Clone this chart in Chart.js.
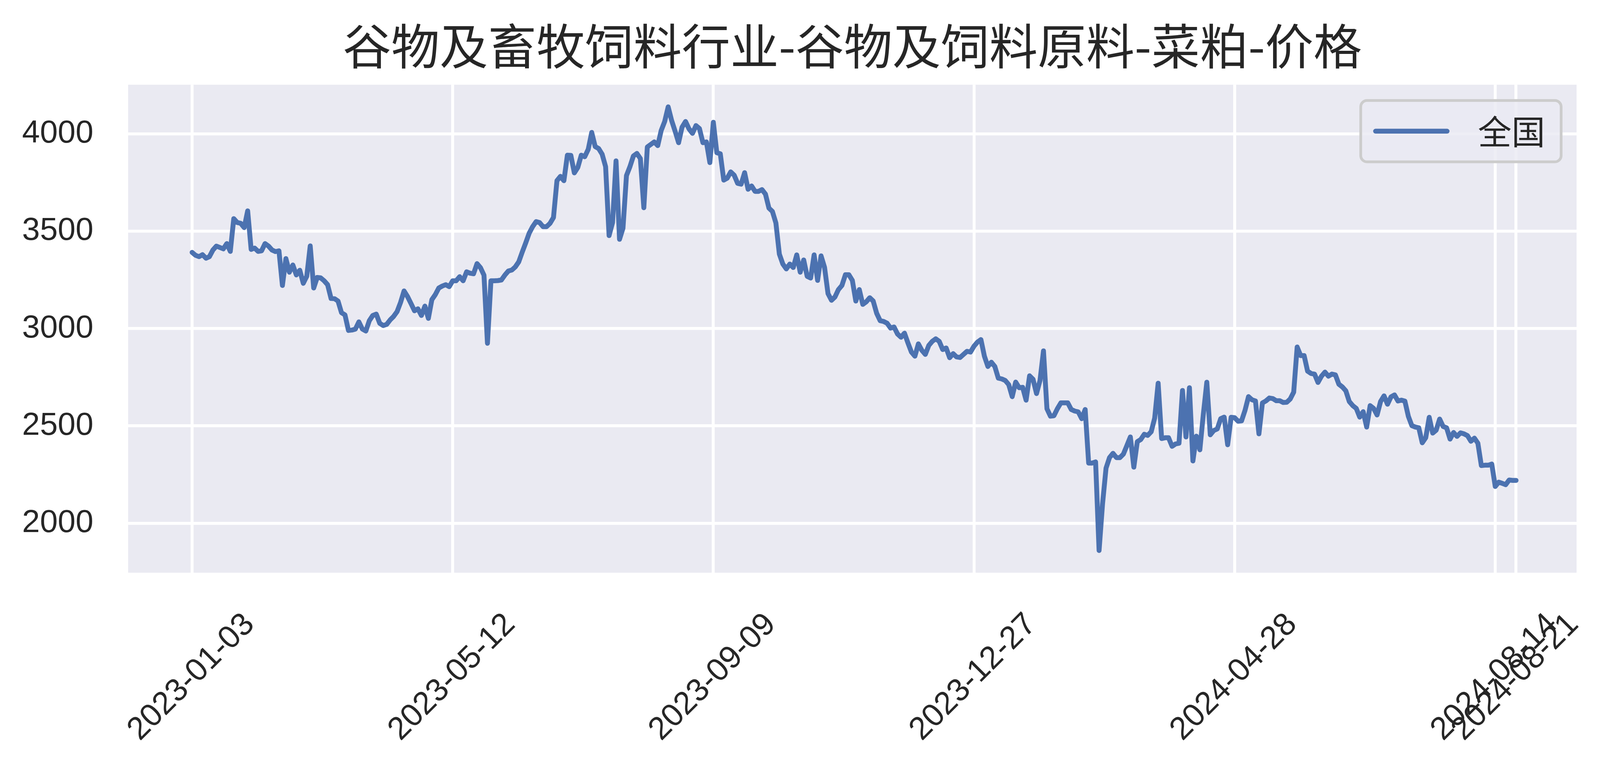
<!DOCTYPE html>
<html>
<head>
<meta charset="utf-8">
<title>菜粕价格</title>
<script src="https://cdn.jsdelivr.net/npm/chart.js@4.4.1/dist/chart.umd.min.js"></script>
<style>
  html, body { margin: 0; padding: 0; background: #ffffff; }
  canvas { display: block; }
</style>
</head>
<body>
<canvas id="priceChart" width="4131" height="1989" style="width:4131px;height:1989px"></canvas>
<script>
const chartTitle = '谷物及畜牧饲料行业-谷物及饲料原料-菜粕-价格';
const seriesName = '全国';

// x ticks: index of the point in the series and its date
const tickIndex = [0, 75, 150, 225, 300, 375, 381];
const tickLabels = ['2023-01-03', '2023-05-12', '2023-09-09', '2023-12-27', '2024-04-28', '2024-08-14', '2024-08-21'];
const yTicks = [2000, 2500, 3000, 3500, 4000];

// 全国 菜粕 price, one value per record
const prices = [
    3391, 3376, 3369, 3379, 3361, 3369, 3403, 3423, 3416, 3409,
    3436, 3396, 3564, 3544, 3540, 3518, 3604, 3406, 3413, 3396,
    3399, 3436, 3423, 3403, 3395, 3399, 3221, 3359, 3289, 3326,
    3275, 3299, 3232, 3268, 3424, 3208, 3262, 3260, 3245, 3225,
    3154, 3153, 3141, 3081, 3070, 2990, 2992, 2997, 3034, 2997,
    2987, 3040, 3067, 3074, 3027, 3015, 3021, 3044, 3062, 3087,
    3134, 3193, 3164, 3128, 3091, 3101, 3067, 3115, 3052, 3148,
    3174, 3208, 3218, 3225, 3215, 3245, 3245, 3266, 3245, 3291,
    3284, 3281, 3333, 3312, 3274, 2924, 3245, 3245, 3246, 3249,
    3274, 3295, 3300, 3316, 3342, 3392, 3439, 3489, 3523, 3549,
    3544, 3523, 3523, 3540, 3570, 3759, 3781, 3759, 3890, 3889,
    3799, 3827, 3890, 3882, 3920, 4007, 3934, 3924, 3895, 3831,
    3477, 3544, 3861, 3458, 3515, 3785, 3831, 3886, 3899, 3873,
    3620, 3932, 3945, 3958, 3939, 4017, 4063, 4138, 4068, 4013,
    3954, 4034, 4063, 4025, 4002, 4042, 4027, 3954, 3958, 3852,
    4059, 3903, 3897, 3762, 3772, 3804, 3787, 3745, 3741, 3800,
    3715, 3732, 3704, 3704, 3713, 3690, 3618, 3601, 3542, 3382,
    3331, 3306, 3331, 3313, 3378, 3289, 3352, 3268, 3259, 3378,
    3247, 3373, 3314, 3179, 3145, 3162, 3200, 3221, 3276, 3276,
    3247, 3141, 3200, 3124, 3137, 3158, 3141, 3078, 3040, 3036,
    3027, 3002, 3008, 2972, 2955, 2976, 2926, 2879, 2858, 2921,
    2888, 2867, 2913, 2934, 2947, 2934, 2892, 2900, 2850, 2871,
    2854, 2851, 2867, 2883, 2879, 2909, 2930, 2943, 2858, 2805,
    2827, 2805, 2745, 2741, 2733, 2712, 2650, 2725, 2696, 2698,
    2632, 2757, 2739, 2666, 2733, 2885, 2588, 2550, 2552, 2588,
    2618, 2618, 2618, 2584, 2576, 2572, 2537, 2584, 2309, 2309,
    2315, 1860, 2100, 2283, 2337, 2359, 2337, 2337, 2355, 2399,
    2443, 2288, 2419, 2430, 2457, 2451, 2470, 2540, 2719, 2435,
    2439, 2439, 2395, 2407, 2411, 2682, 2443, 2696, 2320, 2447,
    2377, 2560, 2724, 2454, 2476, 2484, 2537, 2545, 2403, 2544,
    2542, 2524, 2526, 2580, 2650, 2634, 2628, 2459, 2618, 2628,
    2643, 2640, 2629, 2629, 2620, 2621, 2638, 2673, 2905, 2861,
    2861, 2781, 2769, 2766, 2723, 2755, 2776, 2755, 2766, 2762,
    2714, 2700, 2680, 2625, 2604, 2590, 2545, 2573, 2494, 2604,
    2590, 2556, 2625, 2654, 2611, 2649, 2659, 2628, 2632, 2627,
    2549, 2501, 2494, 2490, 2413, 2439, 2544, 2463, 2478, 2535,
    2497, 2490, 2432, 2466, 2446, 2464, 2459, 2450, 2421, 2437,
    2411, 2296, 2298, 2298, 2304, 2189, 2211, 2205, 2198, 2222,
    2220, 2220
];

const points = prices.map((v, i) => ({ x: i, y: v }));

const lo = Math.min(...prices);
const hi = Math.max(...prices);
const yPad = (hi - lo) * 0.05;

const textColor = '#262626';
const tickFont = { family: '"Liberation Sans", Arial, sans-serif', size: 82 };

// seaborn style grey panel behind the grid
const plotBackground = {
    id: 'plotBackground',
    beforeDraw(chart) {
        const { ctx, chartArea } = chart;
        ctx.save();
        ctx.fillStyle = '#ffffff';
        ctx.fillRect(0, 0, chart.width, chart.height);
        ctx.fillStyle = '#eaeaf2';
        ctx.fillRect(chartArea.left, chartArea.top, chartArea.right - chartArea.left, chartArea.bottom - chartArea.top);
        ctx.restore();
    }
};

// legend box in the upper right corner of the plot
const insideLegend = {
    id: 'insideLegend',
    afterDraw(chart) {
        const { ctx, chartArea } = chart;
        const ds = chart.data.datasets[0];
        const w = 513, h = 157;
        const x = chartArea.right - 36 - w - 3.5;
        const y = chartArea.top + 37 + 3.5;
        const midY = y + h / 2;

        ctx.save();
        ctx.beginPath();
        ctx.roundRect(x, y, w, h, 16);
        ctx.fillStyle = 'rgba(234, 234, 242, 0.8)';
        ctx.fill();
        ctx.lineWidth = 7;
        ctx.strokeStyle = '#cccccc';
        ctx.stroke();

        ctx.beginPath();
        ctx.moveTo(x + 38, midY);
        ctx.lineTo(x + 221, midY);
        ctx.lineWidth = ds.borderWidth;
        ctx.lineCap = 'round';
        ctx.strokeStyle = ds.borderColor;
        ctx.stroke();

        ctx.fillStyle = textColor;
        ctx.font = '86px "Noto Sans CJK SC"';
        ctx.textBaseline = 'middle';
        ctx.textAlign = 'left';
        ctx.fillText(ds.label, x + 300, midY + 2);
        ctx.restore();
    }
};

new Chart(document.getElementById('priceChart').getContext('2d'), {
    type: 'line',
    data: {
        datasets: [{
            label: seriesName,
            data: points,
            borderColor: '#4c72b0',
            borderWidth: 12.5,
            borderCapStyle: 'round',
            borderJoinStyle: 'round',
            pointRadius: 0,
            tension: 0,
            fill: false
        }]
    },
    options: {
        responsive: false,
        animation: false,
        devicePixelRatio: 1,
        layout: { padding: { right: 95 } },
        plugins: {
            legend: { display: false },
            tooltip: { enabled: false },
            title: {
                display: true,
                text: chartTitle,
                fullSize: false,
                color: textColor,
                font: { family: '"Noto Sans CJK SC"', size: 124, weight: 'normal', lineHeight: 1.2 },
                padding: { top: 43, bottom: 25 }
            }
        },
        scales: {
            x: {
                type: 'linear',
                min: -18.4,
                max: 398.4,
                afterBuildTicks: (scale) => { scale.ticks = tickIndex.map(v => ({ value: v })); },
                afterFit: (scale) => { scale.height = 523; },
                grid: { color: '#ffffff', lineWidth: 7.5, drawTicks: false },
                border: { display: false },
                ticks: {
                    autoSkip: false,
                    minRotation: 45,
                    maxRotation: 45,
                    padding: 85,
                    labelOffset: 147,
                    color: textColor,
                    font: tickFont,
                    callback: (value, index) => tickLabels[index]
                }
            },
            y: {
                min: lo - yPad,
                max: hi + yPad,
                afterBuildTicks: (scale) => { scale.ticks = yTicks.map(v => ({ value: v })); },
                afterFit: (scale) => { scale.width = 328; },
                grid: { color: '#ffffff', lineWidth: 7.5, drawTicks: false },
                border: { display: false },
                ticks: {
                    padding: 89,
                    color: textColor,
                    font: tickFont,
                    callback: (value) => String(value)
                }
            }
        }
    },
    plugins: [plotBackground, insideLegend]
});
</script>
</body>
</html>
